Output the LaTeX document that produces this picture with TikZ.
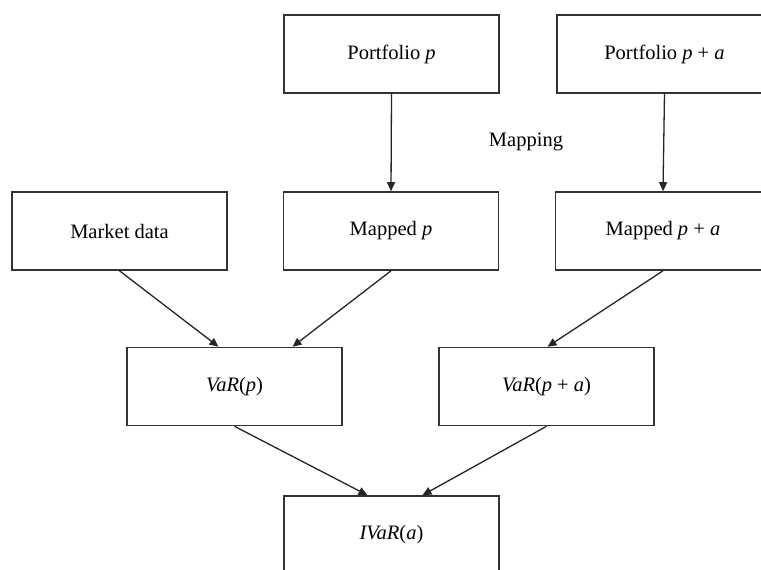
\documentclass[tikz,border=0pt]{standalone}
\usepackage{fontspec}
\setmainfont{Liberation Serif}
\usetikzlibrary{arrows.meta,calc}
\begin{document}
\begin{tikzpicture}[x=1pt,y=-1pt,
  box/.style={draw=black!80,line width=1.6pt,fill=white,minimum width=215pt,minimum height=78pt,inner sep=0pt,font=\fontsize{20.5}{24}\selectfont},
  conn/.style={draw=black!85,line width=1.3pt,-{Triangle[length=9pt,width=8pt]}},
  lbl/.style={font=\fontsize{20.5}{24}\selectfont}]
\fill[white] (0,0) rectangle (761,570);
\useasboundingbox (0,0) rectangle (761,570);
\node[box] (pp) at (391.5,54) {Portfolio \textit{p}};
\node[box] (ppa) at (664.5,54) {Portfolio \textit{p} + \textit{a}};
\node[box] (md) at (119.5,231) {Market data};
\node[box] (mp) at (391,231) {Mapped \textit{p}};
\node[box] (mpa) at (663,231) {Mapped \textit{p} + \textit{a}};
\node[box] (vp) at (234.5,386.5) {\textit{VaR}(\textit{p})};
\node[box] (vpa) at (546.5,386.5) {\textit{VaR}(\textit{p} + \textit{a})};
\node[box] (iv) at (391.5,535) {\textit{IVaR}(\textit{a})};
\node[lbl] (map) at (526,142) {Mapping};
\draw[conn] (pp.south) -- (mp.north);
\draw[conn] (ppa.south) -- (mpa.north);
\draw[conn] (md.south) -- ($(vp.north)+(-16,0)$);
\draw[conn] (mp.south) -- ($(vp.north)+(58,0)$);
\draw[conn] (mpa.south) -- ($(vpa.north)+(1,0)$);
\draw[conn] (vp.south) -- ($(iv.north)+(-24,0)$);
\draw[conn] (vpa.south) -- ($(iv.north)+(31,0)$);
\end{tikzpicture}
\end{document}
